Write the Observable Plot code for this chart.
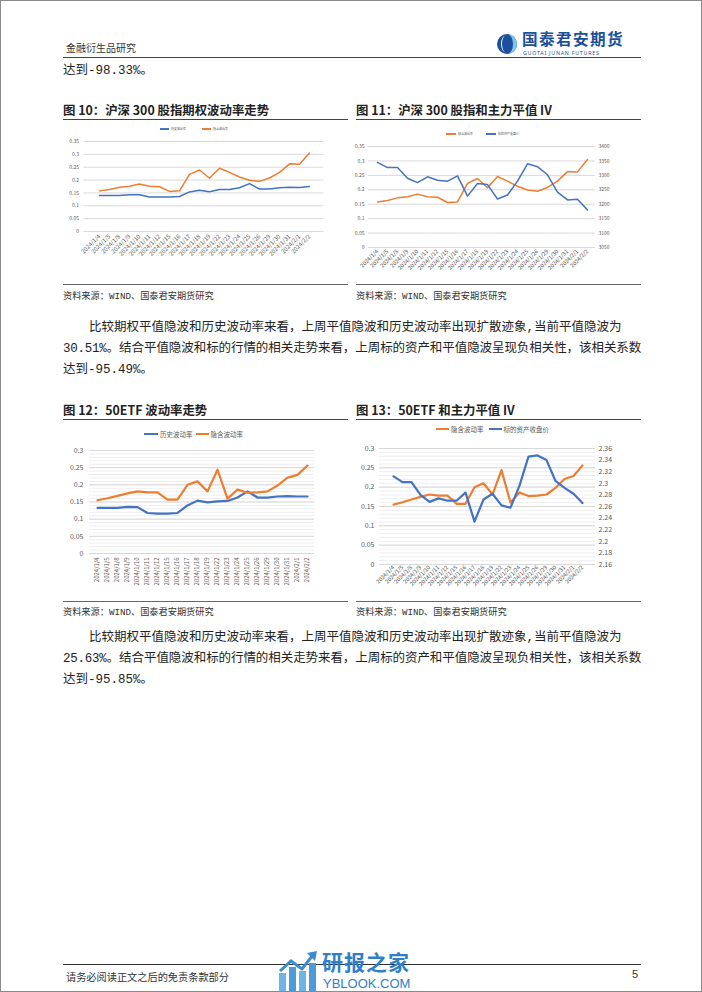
<!DOCTYPE html>
<html><head><meta charset="utf-8">
<script src="https://cdn.jsdelivr.net/npm/d3@7"></script>
<script src="https://cdn.jsdelivr.net/npm/@observablehq/plot@0.6"></script>
<style>
html,body{margin:0;padding:0;background:#fff;}
#page{position:relative;width:702px;height:992px;overflow:hidden;background:#fff;box-sizing:border-box;border:1px solid #8a8a8a;}
.abs{position:absolute;white-space:nowrap;}
.body{font-family:"Liberation Mono","Noto Sans CJK SC",sans-serif;font-size:12.5px;color:#222;line-height:16px;}
.just{width:578px;text-align:justify;text-align-last:justify;white-space:normal;letter-spacing:-0.25px;}
.title{font-family:"Noto Sans CJK SC",sans-serif;font-weight:bold;font-size:12.4px;color:#222;}
.src{font-family:"Liberation Mono","Noto Sans CJK SC",sans-serif;font-size:9.2px;color:#333;}
.rule{position:absolute;background:#444;}
.leg{position:absolute;font-family:"Noto Sans CJK SC",sans-serif;color:#595959;white-space:nowrap;display:flex;align-items:center;}
.leg i{display:inline-block;}
.chart{position:absolute;}
</style></head>
<body><div id="page">
<!-- header -->
<div class="abs" style="left:65px;top:39px;font-family:'Noto Sans CJK SC';font-size:10px;color:#333;">金融衍生品研究</div>
<svg class="abs" style="left:495px;top:31px" width="24" height="24" viewBox="0 0 24 24">
  <circle cx="11" cy="12" r="10" fill="#1c4f9c"/>
  <path d="M11 2 A10 10 0 0 1 11 22 A6 10 0 0 0 11 2Z" fill="#7cc4ec"/>
  <path d="M10 3.5 A5 8.5 0 0 0 10 20.5 A4 8.5 0 0 1 10 3.5Z" fill="#fff"/>
</svg>
<div class="abs" style="left:521px;top:29px;line-height:16px;height:16px;font-family:'Noto Sans CJK SC';font-weight:bold;font-size:15.6px;color:#1c4f9c;letter-spacing:1.4px;">国泰君安期货</div>
<div class="abs" style="left:522px;top:49px;line-height:6px;height:6px;font-family:'Noto Sans';font-size:5.3px;color:#1c4f9c;letter-spacing:0.75px;">GUOTAI JUNAN FUTURES</div>
<div class="rule" style="left:62px;top:55.5px;width:578px;height:1.5px;"></div>
<div class="abs body" style="left:62px;top:62px;">达到-98.33%。</div>

<!-- figure titles -->
<div class="abs title" style="left:62px;top:100px;">图 10：沪深 300 股指期权波动率走势</div>
<div class="rule" style="left:62px;top:118px;width:285px;height:1.3px;"></div>
<div class="abs title" style="left:355px;top:100px;">图 11：沪深 300 股指和主力平值 IV</div>
<div class="rule" style="left:355px;top:118px;width:285px;height:1.3px;"></div>

<div class="rule" style="left:62px;top:283px;width:285px;height:1px;background:#666"></div>
<div class="abs src" style="left:62px;top:287px;">资料来源：WIND、国泰君安期货研究</div>
<div class="rule" style="left:355px;top:283px;width:285px;height:1px;background:#666"></div>
<div class="abs src" style="left:355px;top:287px;">资料来源：WIND、国泰君安期货研究</div>

<div class="abs body" style="left:88px;top:319px;">比较期权平值隐波和历史波动率来看，上周平值隐波和历史波动率出现扩散迹象,当前平值隐波为</div>
<div class="abs body just" style="left:62px;top:340px;">30.51%。结合平值隐波和标的行情的相关走势来看，上周标的资产和平值隐波呈现负相关性，该相关系数</div>
<div class="abs body" style="left:62px;top:361px;">达到-95.49%。</div>

<div class="abs title" style="left:62px;top:400px;">图 12：50ETF 波动率走势</div>
<div class="rule" style="left:62px;top:418px;width:285px;height:1.3px;"></div>
<div class="abs title" style="left:355px;top:400px;">图 13：50ETF 和主力平值 IV</div>
<div class="rule" style="left:355px;top:418px;width:285px;height:1.3px;"></div>

<div class="rule" style="left:62px;top:600px;width:285px;height:1px;background:#666"></div>
<div class="abs src" style="left:62px;top:603px;">资料来源：WIND、国泰君安期货研究</div>
<div class="rule" style="left:355px;top:600px;width:285px;height:1px;background:#666"></div>
<div class="abs src" style="left:355px;top:603px;">资料来源：WIND、国泰君安期货研究</div>

<div class="abs body" style="left:88px;top:629px;">比较期权平值隐波和历史波动率来看，上周平值隐波和历史波动率出现扩散迹象,当前平值隐波为</div>
<div class="abs body just" style="left:62px;top:650px;">25.63%。结合平值隐波和标的行情的相关走势来看，上周标的资产和平值隐波呈现负相关性，该相关系数</div>
<div class="abs body" style="left:62px;top:671px;">达到-95.85%。</div>

<!-- legends -->
<div class="leg" style="left:159px;top:126px;font-size:3px;"><i style="width:9px;height:1.3px;background:#4472C4;margin-right:2px"></i>历史波动率<i style="width:9px;height:1.3px;background:#ED7D31;margin:0 2px 0 16px"></i>隐含波动率</div>
<div class="leg" style="left:445px;top:131px;font-size:3px;"><i style="width:10px;height:1.3px;background:#ED7D31;margin-right:2px"></i>隐含波动率<i style="width:10px;height:1.3px;background:#4472C4;margin:0 2px 0 13px"></i>标的资产收盘价</div>
<div class="leg" style="left:143px;top:428px;font-size:6.5px;"><i style="width:14px;height:2.5px;background:#4472C4;margin-right:2px"></i>历史波动率<i style="width:13px;height:2.5px;background:#ED7D31;margin:0 2px 0 3px"></i>隐含波动率</div>
<div class="leg" style="left:435px;top:423px;font-size:6.5px;"><i style="width:13px;height:2.5px;background:#ED7D31;margin-right:2px"></i>隐含波动率<i style="width:13px;height:2.5px;background:#4472C4;margin:0 2px 0 5px"></i>标的资产收盘价</div>

<div id="c10" class="chart" style="left:62px;top:120px;"></div>
<div id="c11" class="chart" style="left:352px;top:120px;"></div>
<div id="c12" class="chart" style="left:62px;top:420px;"></div>
<div id="c13" class="chart" style="left:352px;top:420px;"></div>

<!-- footer -->
<div class="rule" style="left:62px;top:963px;width:578px;height:1px;background:#333"></div>
<div class="abs" style="left:65px;top:968px;font-family:'Noto Sans CJK SC';font-size:10.2px;color:#333;">请务必阅读正文之后的免责条款部分</div>
<div class="abs" style="left:631px;top:967px;font-family:'Liberation Sans';font-size:11px;color:#333;">5</div>
<svg class="abs" style="left:276px;top:950px" width="42" height="42" viewBox="0 0 42 42">
  <rect x="2" y="22" width="7" height="18" fill="#6fb4e6"/>
  <rect x="12" y="16" width="7" height="24" fill="#4d9ad8"/>
  <rect x="22" y="20" width="7" height="20" fill="#6fb4e6"/>
  <rect x="32" y="12" width="7" height="28" fill="#4d9ad8"/>
  <polyline points="3,20 14,10 25,18 36,4" fill="none" stroke="#3a8bd0" stroke-width="3"/>
  <polygon points="30,2 40,0 38,10" fill="#3a8bd0"/>
</svg>
<div class="abs" style="left:321px;top:947px;line-height:26px;font-family:'Noto Sans CJK SC';font-weight:bold;font-size:21px;color:#2f7fc8;letter-spacing:1px;">研报之家</div>
<div class="abs" style="left:322px;top:976px;line-height:14px;font-family:'Liberation Sans';font-size:13px;color:#2f7fc8;">YBLOOK.COM</div>
</div>

<script>
const dates = ["2024/1/4","2024/1/5","2024/1/8","2024/1/9","2024/1/10","2024/1/11","2024/1/12","2024/1/15","2024/1/16","2024/1/17","2024/1/18","2024/1/19","2024/1/22","2024/1/23","2024/1/24","2024/1/25","2024/1/26","2024/1/29","2024/1/30","2024/1/31","2024/2/1","2024/2/2"];
// 沪深300
const hv300 = [0.140,0.140,0.140,0.143,0.143,0.134,0.134,0.134,0.136,0.154,0.160,0.155,0.163,0.163,0.170,0.186,0.165,0.165,0.170,0.172,0.171,0.175];
const iv300 = [0.158,0.163,0.172,0.176,0.185,0.176,0.174,0.156,0.158,0.222,0.239,0.207,0.246,0.230,0.212,0.199,0.195,0.208,0.230,0.263,0.262,0.305];
const px300 = [3345,3327,3327,3290,3275,3295,3283,3280,3298,3228,3272,3268,3218,3232,3280,3340,3330,3302,3242,3215,3217,3180];
// 50ETF
const hv50 = [0.133,0.133,0.133,0.136,0.135,0.118,0.116,0.116,0.118,0.140,0.154,0.149,0.152,0.153,0.163,0.181,0.163,0.163,0.166,0.167,0.166,0.166];
const iv50 = [0.155,0.161,0.168,0.175,0.181,0.178,0.178,0.157,0.157,0.200,0.210,0.181,0.244,0.160,0.186,0.177,0.178,0.181,0.198,0.221,0.229,0.256];
const px50 = [2.312,2.302,2.302,2.280,2.268,2.274,2.270,2.270,2.284,2.234,2.272,2.282,2.262,2.258,2.296,2.346,2.348,2.340,2.304,2.292,2.282,2.266];

const BLUE = "#4472C4", ORANGE = "#ED7D31", GRID = "#d9d9d9", TXT = "#595959";
const fmt = d => String(+d.toFixed(2));

function build(o) {
  const rows = dates.map((d, i) => ({date: d, a: o.a ? o.a[i] : null, b: o.b[i], r: o.r ? o.r[i] : null}));
  const marks = [];
  if (o.minor) marks.push(Plot.gridY(d3.range(0, o.ymax + 1e-9, 0.01), {stroke: "#eeeeee", strokeOpacity: 1}));
  marks.push(Plot.gridY(d3.range(0, o.ymax + 1e-9, 0.05), {stroke: GRID, strokeOpacity: 1}));
  marks.push(Plot.axisY(d3.range(0, o.ymax + 1e-9, 0.05), {tickSize: 0, tickPadding: o.padL, tickFormat: fmt, fontSize: o.fs, fill: TXT}));
  if (o.right) marks.push(Plot.axisY(o.right.ticks, {anchor: "right", tickSize: 0, tickPadding: 3, tickFormat: o.right.format, fontSize: o.fs, fill: TXT}));
  marks.push(Plot.axisX({tickSize: 0, tickPadding: o.padX, tickRotate: o.rot, fontSize: o.xfs, fill: TXT}));
  if (o.a) marks.push(Plot.line(rows, {x: "date", y: "a", stroke: o.aColor, strokeWidth: o.sw, strokeLinejoin: "round"}));
  marks.push(Plot.line(rows, {x: "date", y: "b", stroke: o.bColor, strokeWidth: o.sw, strokeLinejoin: "round"}));
  if (o.r) marks.push(Plot.line(rows, {x: "date", y: "r", stroke: BLUE, strokeWidth: o.sw, strokeLinejoin: "round"}));
  return Plot.plot({
    width: o.w, height: o.h,
    marginLeft: o.ml, marginRight: o.mr, marginTop: o.mt, marginBottom: o.mb,
    style: {fontFamily: "'Noto Sans CJK SC', 'Noto Sans', sans-serif", background: "transparent", color: TXT, overflow: "visible"},
    x: {type: "point", domain: dates, padding: 0.5, label: null},
    y: {domain: [0, o.ymax], label: null},
    marks
  });
}

document.getElementById("c10").append(build({
  w: 283, h: 160, ml: 20.5, mr: 22.5, mt: 20, mb: 50, ymax: 0.35, fs: 5, xfs: 5.9, padL: 5, padX: 4, rot: -45, sw: 1.5,
  a: hv300, aColor: BLUE, b: iv300, bColor: ORANGE
}));
document.getElementById("c11").append(build({
  w: 265, h: 160, ml: 15, mr: 23, mt: 25, mb: 34, ymax: 0.35, fs: 5, xfs: 5.6, padL: 4, padX: 3, rot: -45, sw: 1.5,
  b: iv300, bColor: ORANGE, r: px300.map(v => (v - 3050) / 1000),
  right: {ticks: d3.range(0, 0.35 + 1e-9, 0.05), format: d => String(Math.round(3050 + d * 1000))}
}));
document.getElementById("c12").append(build({
  w: 283, h: 175, ml: 26, mr: 32, mt: 29, mb: 43, ymax: 0.3, fs: 7, xfs: 6, padL: 6, padX: 4, rot: -90, sw: 2.2, minor: true,
  a: hv50, aColor: BLUE, b: iv50, bColor: ORANGE
}));
document.getElementById("c13").append(build({
  w: 273, h: 175, ml: 26, mr: 31, mt: 27, mb: 32, ymax: 0.3, fs: 7, xfs: 5.6, padL: 5, padX: 2, rot: -45, sw: 2.2, minor: true,
  b: iv50, bColor: ORANGE, r: px50.map(v => (v - 2.16) * 1.5),
  right: {ticks: d3.range(0, 0.3 + 1e-9, 0.03), format: d => String(+(2.16 + d / 1.5).toFixed(2))}
}));
</script>
</body></html>
